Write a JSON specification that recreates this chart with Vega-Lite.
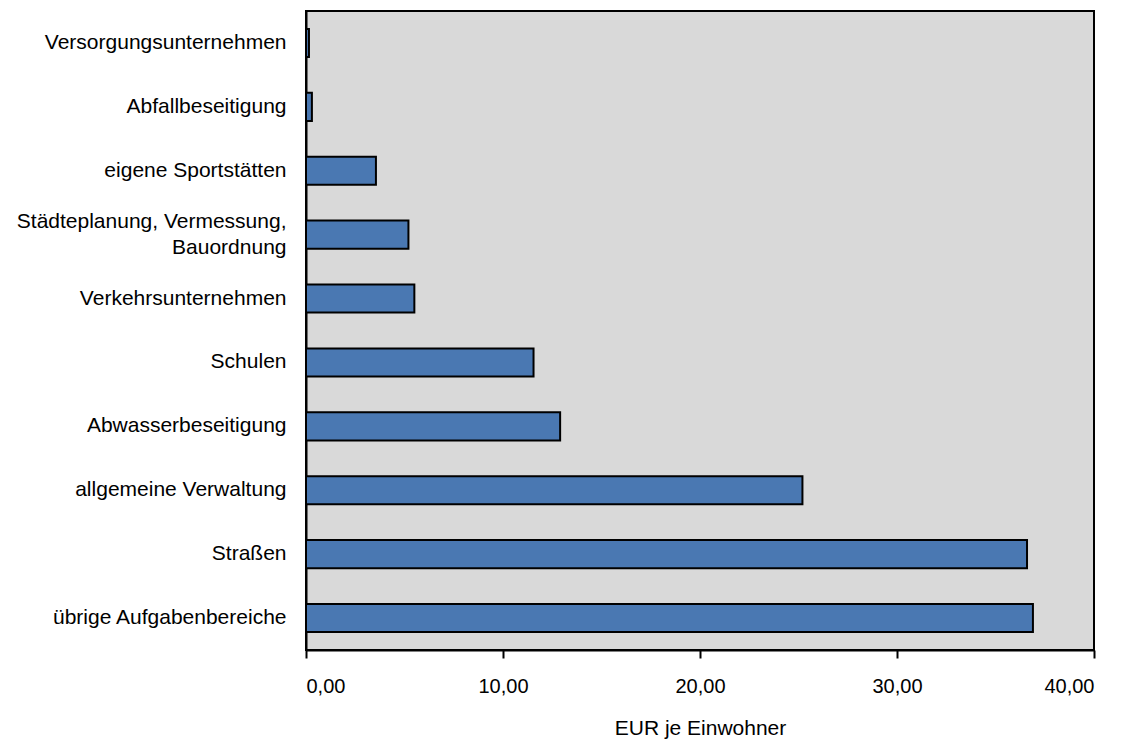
{
  "$schema": "https://vega.github.io/schema/vega-lite/v6.json",
  "autosize": {"type": "none"},
  "padding": {"left": 306, "top": 11, "right": 34, "bottom": 94},
  "width": 788,
  "height": 639,
  "background": "white",
  "config": {
    "view": {"fill": "#d9d9d9", "stroke": "black", "strokeWidth": 2},
    "font": "Liberation Sans"
  },
  "data": {
    "values": [
      {"bereich": "Versorgungsunternehmen", "wert": 0.15},
      {"bereich": "Abfallbeseitigung", "wert": 0.3},
      {"bereich": "eigene Sportstätten", "wert": 3.55},
      {"bereich": "Städteplanung, Vermessung, Bauordnung", "wert": 5.2},
      {"bereich": "Verkehrsunternehmen", "wert": 5.5},
      {"bereich": "Schulen", "wert": 11.55},
      {"bereich": "Abwasserbeseitigung", "wert": 12.9},
      {"bereich": "allgemeine Verwaltung", "wert": 25.2},
      {"bereich": "Straßen", "wert": 36.6},
      {"bereich": "übrige Aufgabenbereiche", "wert": 36.9}
    ]
  },
  "mark": {"type": "bar", "color": "#4a78b2", "stroke": "black", "strokeWidth": 2},
  "encoding": {
    "y": {
      "field": "bereich",
      "type": "nominal",
      "sort": null,
      "scale": {"paddingInner": 0.56, "paddingOuter": 0.28},
      "axis": {
        "title": null,
        "ticks": false,
        "domain": true,
        "domainColor": "black",
        "domainWidth": 2,
        "labelFontSize": 21,
        "labelColor": "black",
        "labelPadding": 20,
        "labelLimit": 320,
        "labelLineHeight": 26,
        "labelOffset": {"condition": {"test": "datum.value == 'Städteplanung, Vermessung, Bauordnung'", "value": -13}, "value": 0},
        "labelExpr": "datum.label == 'Städteplanung, Vermessung, Bauordnung' ? ['Städteplanung, Vermessung,', 'Bauordnung '] : datum.label"
      }
    },
    "x": {
      "field": "wert",
      "type": "quantitative",
      "scale": {"domain": [0, 40], "nice": false},
      "axis": {
        "title": "EUR je Einwohner",
        "titleFontSize": 21,
        "titleFontWeight": "normal",
        "titleColor": "black",
        "titlePadding": 21,
        "values": [0, 10, 20, 30, 40],
        "grid": false,
        "domainColor": "black",
        "domainWidth": 2,
        "tickColor": "black",
        "tickWidth": 2,
        "tickSize": 8,
        "labelFontSize": 20,
        "labelColor": "black",
        "labelPadding": 18,
        "labelExpr": "replace(format(datum.value, '.2f'), '.', ',')"
      }
    }
  }
}
